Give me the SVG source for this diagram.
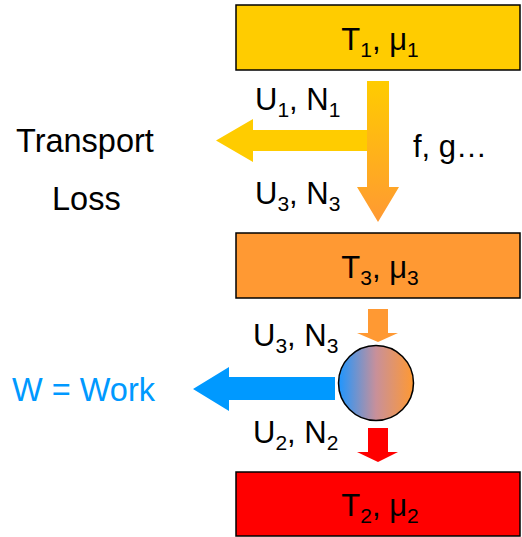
<svg xmlns="http://www.w3.org/2000/svg" width="522" height="537" viewBox="0 0 522 537">
<defs>
<linearGradient id="gv" x1="0" y1="0" x2="0" y2="1"><stop offset="0" stop-color="#FFCC00"/><stop offset="1" stop-color="#FF9933"/></linearGradient>
<linearGradient id="gc" x1="0" y1="0" x2="1" y2="0"><stop offset="0" stop-color="#1E96FF"/><stop offset="0.5" stop-color="#C8909A"/><stop offset="1" stop-color="#FF9933"/></linearGradient>
</defs>
<style>
text{font-family:"Liberation Sans",Arial,sans-serif;font-size:31px;fill:#000}
.sub{font-size:21px}
.big{font-size:32.5px}
.box{stroke:#000;stroke-width:1.5}
</style>
<g id="reservoir1"><rect class="box" x="236" y="5" width="284" height="65" fill="#FFCC00"/>
<text x="380" y="50" text-anchor="middle">T<tspan class="sub" dy="7">1</tspan><tspan dy="-7">, μ</tspan><tspan class="sub" dy="7">1</tspan></text></g>
<g id="reservoir3"><rect class="box" x="236" y="233" width="284" height="65" fill="#FF9933"/>
<text x="380" y="278" text-anchor="middle">T<tspan class="sub" dy="7">3</tspan><tspan dy="-7">, μ</tspan><tspan class="sub" dy="7">3</tspan></text></g>
<g id="reservoir2"><rect class="box" x="236" y="472" width="284" height="64" fill="#FF0000"/>
<text x="380" y="516" text-anchor="middle">T<tspan class="sub" dy="7">2</tspan><tspan dy="-7">, μ</tspan><tspan class="sub" dy="7">2</tspan></text></g>
<g id="engine"><circle cx="376" cy="383" r="37.5" fill="url(#gc)" stroke="#000" stroke-width="1.5"/></g>
<g id="connectors">
<polygon points="367,130 367,151 253,151 253,162 216,140.5 253,119 253,130" fill="#FFCC00"/>
<polygon points="367,81 389,81 389,187 399,187 378,222 357,187 367,187" fill="url(#gv)"/>
<polygon points="368,309 388,309 388,333 398,333 378,342 357,333 368,333" fill="#FF9933"/>
<polygon points="368,428 388,428 388,452 398,452 378,462 357,452 368,452" fill="#FF0000"/>
<polygon points="335,377 335,400 229,400 229,411 193,389 229,367 229,377" fill="#0099FF"/>
</g>
<g id="labels">
<text x="255" y="110">U<tspan class="sub" dy="7">1</tspan><tspan dy="-7">, N</tspan><tspan class="sub" dy="7">1</tspan></text>
<text x="255" y="204">U<tspan class="sub" dy="7">3</tspan><tspan dy="-7">, N</tspan><tspan class="sub" dy="7">3</tspan></text>
<text x="413" y="157">f, g…</text>
<text class="big" x="16" y="152">Transport</text>
<text class="big" x="52" y="210">Loss</text>
<text x="253" y="346">U<tspan class="sub" dy="7">3</tspan><tspan dy="-7">, N</tspan><tspan class="sub" dy="7">3</tspan></text>
<text x="253" y="443">U<tspan class="sub" dy="7">2</tspan><tspan dy="-7">, N</tspan><tspan class="sub" dy="7">2</tspan></text>
<text class="big" x="12" y="401" style="fill:#0099FF">W = Work</text>
</g>
</svg>
